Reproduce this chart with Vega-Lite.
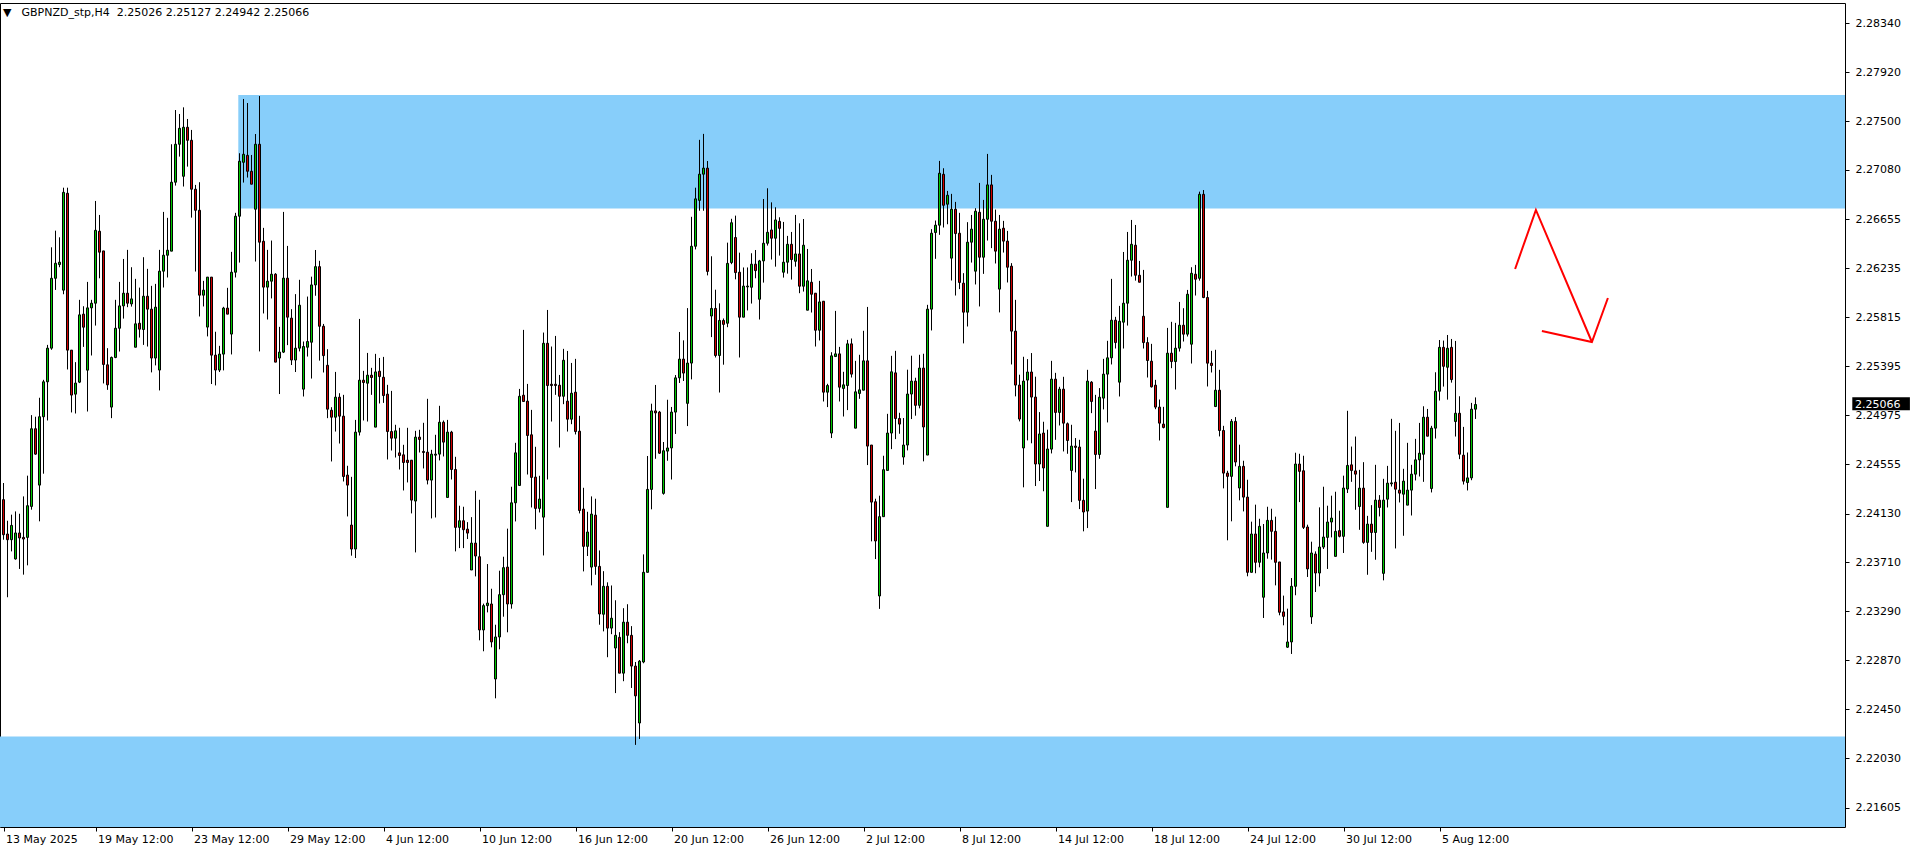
{
"$schema": "https://vega.github.io/schema/vega-lite/v6.json",
"width": 1845,
"height": 824,
"autosize": "none",
"padding": {"left": 0, "top": 3, "right": 71, "bottom": 23},
"background": "white",
"config": {"view": {"stroke": "black", "strokeWidth": 1}, "font": "DejaVu Sans"},
"datasets": {
"candles": [
{"i":0,"o":2.24249,"h":2.24392,"l":2.23905,"c":2.23948},
{"i":1,"o":2.23954,"h":2.24068,"l":2.23411,"c":2.23905},
{"i":2,"o":2.23905,"h":2.24120,"l":2.23805,"c":2.24028},
{"i":3,"o":2.23740,"h":2.24148,"l":2.23734,"c":2.23963},
{"i":4,"o":2.23963,"h":2.24128,"l":2.23654,"c":2.23920},
{"i":5,"o":2.23925,"h":2.24277,"l":2.23605,"c":2.23911},
{"i":6,"o":2.23925,"h":2.24455,"l":2.23685,"c":2.24197},
{"i":7,"o":2.24191,"h":2.24975,"l":2.24163,"c":2.24858},
{"i":8,"o":2.24858,"h":2.24961,"l":2.24635,"c":2.24640},
{"i":9,"o":2.24374,"h":2.25124,"l":2.24063,"c":2.24961},
{"i":10,"o":2.24961,"h":2.25278,"l":2.24472,"c":2.25261},
{"i":11,"o":2.25261,"h":2.25578,"l":2.24929,"c":2.25550},
{"i":12,"o":2.25550,"h":2.26416,"l":2.25536,"c":2.26150},
{"i":13,"o":2.26150,"h":2.26559,"l":2.26050,"c":2.26279},
{"i":14,"o":2.26268,"h":2.26502,"l":2.26245,"c":2.26288},
{"i":15,"o":2.26048,"h":2.26928,"l":2.26013,"c":2.26888},
{"i":16,"o":2.26880,"h":2.26928,"l":2.25367,"c":2.25533},
{"i":17,"o":2.25533,"h":2.25533,"l":2.24998,"c":2.25147},
{"i":18,"o":2.25155,"h":2.25430,"l":2.24989,"c":2.25250},
{"i":19,"o":2.25258,"h":2.25965,"l":2.25250,"c":2.25836},
{"i":20,"o":2.25842,"h":2.25910,"l":2.25561,"c":2.25730},
{"i":21,"o":2.25361,"h":2.26119,"l":2.25006,"c":2.25896},
{"i":22,"o":2.25896,"h":2.25965,"l":2.25487,"c":2.25936},
{"i":23,"o":2.25936,"h":2.26814,"l":2.25744,"c":2.26562},
{"i":24,"o":2.26554,"h":2.26694,"l":2.26150,"c":2.26374},
{"i":25,"o":2.26385,"h":2.26385,"l":2.25247,"c":2.25410},
{"i":26,"o":2.25407,"h":2.25550,"l":2.25192,"c":2.25235},
{"i":27,"o":2.25044,"h":2.25478,"l":2.24949,"c":2.25470},
{"i":28,"o":2.25470,"h":2.25965,"l":2.25464,"c":2.25721},
{"i":29,"o":2.25721,"h":2.26119,"l":2.25521,"c":2.25913},
{"i":30,"o":2.25913,"h":2.26316,"l":2.25804,"c":2.26022},
{"i":31,"o":2.26022,"h":2.26394,"l":2.25902,"c":2.25936},
{"i":32,"o":2.25930,"h":2.26245,"l":2.25907,"c":2.25973},
{"i":33,"o":2.25558,"h":2.26145,"l":2.25558,"c":2.25759},
{"i":34,"o":2.25764,"h":2.26070,"l":2.25641,"c":2.25713},
{"i":35,"o":2.25710,"h":2.26331,"l":2.25578,"c":2.25996},
{"i":36,"o":2.25996,"h":2.26231,"l":2.25564,"c":2.25885},
{"i":37,"o":2.25885,"h":2.26085,"l":2.25342,"c":2.25465},
{"i":38,"o":2.25465,"h":2.26102,"l":2.25402,"c":2.25902},
{"i":39,"o":2.25362,"h":2.26394,"l":2.25187,"c":2.26211},
{"i":40,"o":2.26211,"h":2.26720,"l":2.26071,"c":2.26348},
{"i":41,"o":2.26348,"h":2.26669,"l":2.26157,"c":2.26391},
{"i":42,"o":2.26383,"h":2.27301,"l":2.26383,"c":2.26975},
{"i":43,"o":2.26975,"h":2.27595,"l":2.26946,"c":2.27301},
{"i":44,"o":2.27301,"h":2.27561,"l":2.27195,"c":2.27438},
{"i":45,"o":2.27026,"h":2.27618,"l":2.26938,"c":2.27447},
{"i":46,"o":2.27447,"h":2.27518,"l":2.27109,"c":2.27335},
{"i":47,"o":2.27335,"h":2.27424,"l":2.26671,"c":2.26915},
{"i":48,"o":2.26915,"h":2.26952,"l":2.26208,"c":2.26734},
{"i":49,"o":2.26734,"h":2.26975,"l":2.25822,"c":2.26005},
{"i":50,"o":2.26005,"h":2.26128,"l":2.25908,"c":2.26048},
{"i":51,"o":2.25731,"h":2.26160,"l":2.25651,"c":2.26160},
{"i":52,"o":2.26160,"h":2.26160,"l":2.25242,"c":2.25490},
{"i":53,"o":2.25490,"h":2.25691,"l":2.25230,"c":2.25362},
{"i":54,"o":2.25362,"h":2.25570,"l":2.25345,"c":2.25499},
{"i":55,"o":2.25499,"h":2.25905,"l":2.25359,"c":2.25894},
{"i":56,"o":2.25894,"h":2.26068,"l":2.25842,"c":2.25842},
{"i":57,"o":2.25671,"h":2.26377,"l":2.25496,"c":2.26202},
{"i":58,"o":2.26202,"h":2.26712,"l":2.26157,"c":2.26683},
{"i":59,"o":2.26683,"h":2.27224,"l":2.26285,"c":2.27155},
{"i":60,"o":2.27146,"h":2.27690,"l":2.26972,"c":2.27215},
{"i":61,"o":2.27206,"h":2.27655,"l":2.27015,"c":2.27069},
{"i":62,"o":2.27069,"h":2.27209,"l":2.26958,"c":2.26958},
{"i":63,"o":2.26743,"h":2.27389,"l":2.26294,"c":2.27301},
{"i":64,"o":2.27301,"h":2.27715,"l":2.25522,"c":2.26460},
{"i":65,"o":2.26468,"h":2.26583,"l":2.25848,"c":2.26074},
{"i":66,"o":2.26074,"h":2.26394,"l":2.25796,"c":2.26125},
{"i":67,"o":2.26125,"h":2.26474,"l":2.25977,"c":2.26185},
{"i":68,"o":2.26185,"h":2.26194,"l":2.25430,"c":2.25430},
{"i":69,"o":2.25465,"h":2.25733,"l":2.25156,"c":2.25516},
{"i":70,"o":2.25516,"h":2.26720,"l":2.25508,"c":2.26151},
{"i":71,"o":2.26151,"h":2.26428,"l":2.25576,"c":2.25816},
{"i":72,"o":2.25808,"h":2.25885,"l":2.25405,"c":2.25448},
{"i":73,"o":2.25448,"h":2.26014,"l":2.25345,"c":2.25550},
{"i":74,"o":2.25550,"h":2.26137,"l":2.25522,"c":2.25919},
{"i":75,"o":2.25198,"h":2.25607,"l":2.25135,"c":2.25564},
{"i":76,"o":2.25558,"h":2.25993,"l":2.25478,"c":2.25607},
{"i":77,"o":2.25601,"h":2.26164,"l":2.25289,"c":2.26093},
{"i":78,"o":2.26093,"h":2.26393,"l":2.26000,"c":2.26250},
{"i":79,"o":2.26250,"h":2.26300,"l":2.25443,"c":2.25738},
{"i":80,"o":2.25738,"h":2.25758,"l":2.25341,"c":2.25486},
{"i":81,"o":2.25403,"h":2.25541,"l":2.24949,"c":2.25026},
{"i":82,"o":2.25017,"h":2.25043,"l":2.24577,"c":2.24957},
{"i":83,"o":2.24957,"h":2.25346,"l":2.24834,"c":2.25129},
{"i":84,"o":2.25129,"h":2.25163,"l":2.24731,"c":2.24966},
{"i":85,"o":2.24966,"h":2.25149,"l":2.24405,"c":2.24448},
{"i":86,"o":2.24460,"h":2.24540,"l":2.24105,"c":2.24374},
{"i":87,"o":2.24031,"h":2.24445,"l":2.23768,"c":2.23825},
{"i":88,"o":2.23825,"h":2.24934,"l":2.23748,"c":2.24829},
{"i":89,"o":2.24829,"h":2.25801,"l":2.24800,"c":2.25275},
{"i":90,"o":2.25275,"h":2.25355,"l":2.24929,"c":2.25255},
{"i":91,"o":2.25249,"h":2.25509,"l":2.24920,"c":2.25318},
{"i":92,"o":2.25318,"h":2.25381,"l":2.25149,"c":2.25298},
{"i":93,"o":2.24872,"h":2.25501,"l":2.24872,"c":2.25346},
{"i":94,"o":2.25352,"h":2.25466,"l":2.25075,"c":2.25306},
{"i":95,"o":2.25300,"h":2.25475,"l":2.25080,"c":2.25143},
{"i":96,"o":2.25155,"h":2.25235,"l":2.24594,"c":2.24834},
{"i":97,"o":2.24834,"h":2.25183,"l":2.24671,"c":2.24777},
{"i":98,"o":2.24777,"h":2.24892,"l":2.24611,"c":2.24840},
{"i":99,"o":2.24651,"h":2.24866,"l":2.24508,"c":2.24628},
{"i":100,"o":2.24634,"h":2.24720,"l":2.24328,"c":2.24568},
{"i":101,"o":2.24588,"h":2.24866,"l":2.24397,"c":2.24568},
{"i":102,"o":2.24588,"h":2.24588,"l":2.24131,"c":2.24245},
{"i":103,"o":2.24237,"h":2.24840,"l":2.23796,"c":2.24786},
{"i":104,"o":2.24786,"h":2.24849,"l":2.24654,"c":2.24766},
{"i":105,"o":2.24663,"h":2.24909,"l":2.24517,"c":2.24654},
{"i":106,"o":2.24657,"h":2.25115,"l":2.24380,"c":2.24417},
{"i":107,"o":2.24417,"h":2.24677,"l":2.24088,"c":2.24640},
{"i":108,"o":2.24631,"h":2.24806,"l":2.24096,"c":2.24640},
{"i":109,"o":2.24640,"h":2.25055,"l":2.24586,"c":2.24914},
{"i":110,"o":2.24914,"h":2.24929,"l":2.24620,"c":2.24743},
{"i":111,"o":2.24268,"h":2.24934,"l":2.24268,"c":2.24829},
{"i":112,"o":2.24829,"h":2.24840,"l":2.24422,"c":2.24508},
{"i":113,"o":2.24508,"h":2.24617,"l":2.23805,"c":2.24011},
{"i":114,"o":2.24011,"h":2.24197,"l":2.23833,"c":2.24068},
{"i":115,"o":2.24068,"h":2.24188,"l":2.23833,"c":2.23991},
{"i":116,"o":2.23996,"h":2.24056,"l":2.23911,"c":2.23962},
{"i":117,"o":2.23645,"h":2.24099,"l":2.23645,"c":2.23876},
{"i":118,"o":2.23876,"h":2.24325,"l":2.23590,"c":2.23765},
{"i":119,"o":2.23759,"h":2.24248,"l":2.23041,"c":2.23130},
{"i":120,"o":2.23130,"h":2.23356,"l":2.22947,"c":2.23339},
{"i":121,"o":2.23339,"h":2.23696,"l":2.23281,"c":2.23361},
{"i":122,"o":2.23353,"h":2.23484,"l":2.22981,"c":2.23027},
{"i":123,"o":2.22709,"h":2.23175,"l":2.22543,"c":2.23070},
{"i":124,"o":2.23070,"h":2.23639,"l":2.22964,"c":2.23433},
{"i":125,"o":2.23433,"h":2.23759,"l":2.23244,"c":2.23665},
{"i":126,"o":2.23670,"h":2.24000,"l":2.23110,"c":2.23353},
{"i":127,"o":2.23353,"h":2.24360,"l":2.23313,"c":2.24222},
{"i":128,"o":2.24222,"h":2.24737,"l":2.24062,"c":2.24651},
{"i":129,"o":2.24371,"h":2.25200,"l":2.24371,"c":2.25137},
{"i":130,"o":2.25146,"h":2.25707,"l":2.25092,"c":2.25092},
{"i":131,"o":2.25095,"h":2.25243,"l":2.24465,"c":2.24800},
{"i":132,"o":2.24806,"h":2.25020,"l":2.24182,"c":2.24440},
{"i":133,"o":2.24443,"h":2.24703,"l":2.23994,"c":2.24174},
{"i":134,"o":2.24174,"h":2.24454,"l":2.24139,"c":2.24254},
{"i":135,"o":2.24099,"h":2.25684,"l":2.23770,"c":2.25592},
{"i":136,"o":2.25592,"h":2.25878,"l":2.24422,"c":2.25229},
{"i":137,"o":2.25240,"h":2.25564,"l":2.24920,"c":2.25229},
{"i":138,"o":2.25240,"h":2.25655,"l":2.25149,"c":2.25229},
{"i":139,"o":2.25232,"h":2.25320,"l":2.24697,"c":2.25137},
{"i":140,"o":2.25137,"h":2.25544,"l":2.25069,"c":2.25446},
{"i":141,"o":2.25095,"h":2.25526,"l":2.24834,"c":2.24940},
{"i":142,"o":2.24940,"h":2.25423,"l":2.24897,"c":2.25163},
{"i":143,"o":2.25172,"h":2.25458,"l":2.24809,"c":2.24834},
{"i":144,"o":2.24837,"h":2.24969,"l":2.24131,"c":2.24156},
{"i":145,"o":2.24168,"h":2.24351,"l":2.23633,"c":2.23848},
{"i":146,"o":2.23848,"h":2.24145,"l":2.23765,"c":2.23971},
{"i":147,"o":2.23670,"h":2.24277,"l":2.23513,"c":2.24125},
{"i":148,"o":2.24116,"h":2.24257,"l":2.23604,"c":2.23676},
{"i":149,"o":2.23676,"h":2.23813,"l":2.23175,"c":2.23267},
{"i":150,"o":2.23265,"h":2.23635,"l":2.23118,"c":2.23505},
{"i":151,"o":2.23505,"h":2.23539,"l":2.22896,"c":2.23146},
{"i":152,"o":2.23146,"h":2.23512,"l":2.23094,"c":2.23231},
{"i":153,"o":2.22975,"h":2.23385,"l":2.22588,"c":2.23084},
{"i":154,"o":2.23067,"h":2.23111,"l":2.22759,"c":2.22759},
{"i":155,"o":2.22759,"h":2.23317,"l":2.22690,"c":2.23197},
{"i":156,"o":2.23197,"h":2.23351,"l":2.23016,"c":2.23084},
{"i":157,"o":2.23084,"h":2.23163,"l":2.22632,"c":2.22820},
{"i":158,"o":2.22820,"h":2.22855,"l":2.22143,"c":2.22564},
{"i":159,"o":2.22331,"h":2.22872,"l":2.22194,"c":2.22862},
{"i":160,"o":2.22855,"h":2.23779,"l":2.22844,"c":2.23625},
{"i":161,"o":2.23625,"h":2.24624,"l":2.23625,"c":2.24337},
{"i":162,"o":2.24337,"h":2.25073,"l":2.24166,"c":2.25011},
{"i":163,"o":2.25011,"h":2.25234,"l":2.24600,"c":2.24994},
{"i":164,"o":2.25001,"h":2.25011,"l":2.24642,"c":2.24648},
{"i":165,"o":2.24303,"h":2.24744,"l":2.24292,"c":2.24669},
{"i":166,"o":2.24666,"h":2.25107,"l":2.24583,"c":2.24693},
{"i":167,"o":2.24693,"h":2.25045,"l":2.24422,"c":2.25001},
{"i":168,"o":2.25001,"h":2.25319,"l":2.24813,"c":2.25295},
{"i":169,"o":2.25295,"h":2.25689,"l":2.25251,"c":2.25456},
{"i":170,"o":2.25456,"h":2.25617,"l":2.25268,"c":2.25336},
{"i":171,"o":2.25076,"h":2.25894,"l":2.24881,"c":2.25422},
{"i":172,"o":2.25422,"h":2.26678,"l":2.25282,"c":2.26425},
{"i":173,"o":2.26425,"h":2.26928,"l":2.26398,"c":2.26832},
{"i":174,"o":2.26819,"h":2.27339,"l":2.26730,"c":2.27044},
{"i":175,"o":2.27044,"h":2.27390,"l":2.26730,"c":2.27096},
{"i":176,"o":2.27096,"h":2.27157,"l":2.26175,"c":2.26209},
{"i":177,"o":2.25826,"h":2.26339,"l":2.25645,"c":2.25891},
{"i":178,"o":2.25891,"h":2.26052,"l":2.25470,"c":2.25487},
{"i":179,"o":2.25487,"h":2.25935,"l":2.25169,"c":2.25788},
{"i":180,"o":2.25788,"h":2.25805,"l":2.25408,"c":2.25754},
{"i":181,"o":2.25764,"h":2.26456,"l":2.25730,"c":2.26278},
{"i":182,"o":2.26285,"h":2.26661,"l":2.26271,"c":2.26627},
{"i":183,"o":2.26500,"h":2.26688,"l":2.26141,"c":2.26199},
{"i":184,"o":2.26202,"h":2.26370,"l":2.25470,"c":2.25816},
{"i":185,"o":2.25816,"h":2.26243,"l":2.25816,"c":2.26083},
{"i":186,"o":2.26076,"h":2.26243,"l":2.25874,"c":2.26083},
{"i":187,"o":2.26073,"h":2.26365,"l":2.25933,"c":2.26271},
{"i":188,"o":2.26271,"h":2.26393,"l":2.26150,"c":2.26216},
{"i":189,"o":2.25970,"h":2.26308,"l":2.25796,"c":2.26299},
{"i":190,"o":2.26299,"h":2.26831,"l":2.26113,"c":2.26451},
{"i":191,"o":2.26451,"h":2.26923,"l":2.26431,"c":2.26545},
{"i":192,"o":2.26565,"h":2.26802,"l":2.26311,"c":2.26494},
{"i":193,"o":2.26494,"h":2.26760,"l":2.26250,"c":2.26651},
{"i":194,"o":2.26639,"h":2.26674,"l":2.26345,"c":2.26579},
{"i":195,"o":2.26202,"h":2.26634,"l":2.26156,"c":2.26288},
{"i":196,"o":2.26288,"h":2.26514,"l":2.26190,"c":2.26442},
{"i":197,"o":2.26442,"h":2.26548,"l":2.26139,"c":2.26311},
{"i":198,"o":2.26296,"h":2.26694,"l":2.26250,"c":2.26359},
{"i":199,"o":2.26359,"h":2.26622,"l":2.26022,"c":2.26082},
{"i":200,"o":2.26082,"h":2.26659,"l":2.26036,"c":2.26434},
{"i":201,"o":2.25876,"h":2.26402,"l":2.25876,"c":2.26128},
{"i":202,"o":2.26116,"h":2.26230,"l":2.25856,"c":2.26013},
{"i":203,"o":2.26022,"h":2.26022,"l":2.25564,"c":2.25704},
{"i":204,"o":2.25704,"h":2.26128,"l":2.25616,"c":2.25947},
{"i":205,"o":2.25953,"h":2.25953,"l":2.25092,"c":2.25172},
{"i":206,"o":2.25172,"h":2.25244,"l":2.25044,"c":2.25229},
{"i":207,"o":2.24821,"h":2.25515,"l":2.24778,"c":2.25484},
{"i":208,"o":2.25478,"h":2.25870,"l":2.25478,"c":2.25501},
{"i":209,"o":2.25501,"h":2.25561,"l":2.25092,"c":2.25215},
{"i":210,"o":2.25204,"h":2.25347,"l":2.24963,"c":2.25235},
{"i":211,"o":2.25229,"h":2.25621,"l":2.25018,"c":2.25587},
{"i":212,"o":2.25587,"h":2.25633,"l":2.25298,"c":2.25327},
{"i":213,"o":2.24863,"h":2.25441,"l":2.24863,"c":2.25175},
{"i":214,"o":2.25161,"h":2.25493,"l":2.25115,"c":2.25192},
{"i":215,"o":2.25189,"h":2.25699,"l":2.25189,"c":2.25441},
{"i":216,"o":2.25441,"h":2.25904,"l":2.24546,"c":2.24709},
{"i":217,"o":2.24718,"h":2.24718,"l":2.23891,"c":2.24228},
{"i":218,"o":2.24231,"h":2.24257,"l":2.23739,"c":2.23894},
{"i":219,"o":2.23422,"h":2.24283,"l":2.23311,"c":2.24103},
{"i":220,"o":2.24103,"h":2.24626,"l":2.24103,"c":2.24506},
{"i":221,"o":2.24500,"h":2.24986,"l":2.24500,"c":2.24821},
{"i":222,"o":2.24821,"h":2.25484,"l":2.24683,"c":2.25347},
{"i":223,"o":2.25338,"h":2.25527,"l":2.24769,"c":2.24946},
{"i":224,"o":2.24946,"h":2.24995,"l":2.24815,"c":2.24898},
{"i":225,"o":2.24615,"h":2.24950,"l":2.24549,"c":2.24718},
{"i":226,"o":2.24718,"h":2.25365,"l":2.24672,"c":2.25156},
{"i":227,"o":2.25156,"h":2.25485,"l":2.24941,"c":2.25267},
{"i":228,"o":2.25267,"h":2.25296,"l":2.24970,"c":2.25059},
{"i":229,"o":2.25059,"h":2.25493,"l":2.25033,"c":2.25379},
{"i":230,"o":2.25379,"h":2.25502,"l":2.24578,"c":2.24873},
{"i":231,"o":2.24632,"h":2.25922,"l":2.24632,"c":2.25885},
{"i":232,"o":2.25885,"h":2.26572,"l":2.25702,"c":2.26537},
{"i":233,"o":2.26543,"h":2.26646,"l":2.26317,"c":2.26606},
{"i":234,"o":2.26606,"h":2.27158,"l":2.26523,"c":2.27052},
{"i":235,"o":2.27043,"h":2.27095,"l":2.26586,"c":2.26777},
{"i":236,"o":2.26786,"h":2.26900,"l":2.26614,"c":2.26863},
{"i":237,"o":2.26323,"h":2.26875,"l":2.26131,"c":2.26743},
{"i":238,"o":2.26743,"h":2.26806,"l":2.26002,"c":2.26534},
{"i":239,"o":2.26537,"h":2.26712,"l":2.26057,"c":2.26114},
{"i":240,"o":2.26108,"h":2.26194,"l":2.25591,"c":2.25859},
{"i":241,"o":2.25859,"h":2.26632,"l":2.25736,"c":2.26460},
{"i":242,"o":2.26460,"h":2.26694,"l":2.26285,"c":2.26572},
{"i":243,"o":2.26211,"h":2.26752,"l":2.26097,"c":2.26726},
{"i":244,"o":2.26717,"h":2.26969,"l":2.25908,"c":2.26331},
{"i":245,"o":2.26331,"h":2.26823,"l":2.26188,"c":2.26657},
{"i":246,"o":2.26657,"h":2.27218,"l":2.26474,"c":2.26952},
{"i":247,"o":2.26952,"h":2.27038,"l":2.26409,"c":2.26640},
{"i":248,"o":2.26640,"h":2.26740,"l":2.26277,"c":2.26383},
{"i":249,"o":2.26057,"h":2.26694,"l":2.25857,"c":2.26572},
{"i":250,"o":2.26580,"h":2.26643,"l":2.26371,"c":2.26469},
{"i":251,"o":2.26469,"h":2.26557,"l":2.26114,"c":2.26245},
{"i":252,"o":2.26254,"h":2.26280,"l":2.25410,"c":2.25696},
{"i":253,"o":2.25696,"h":2.25965,"l":2.25136,"c":2.25233},
{"i":254,"o":2.25233,"h":2.25322,"l":2.24921,"c":2.24941},
{"i":255,"o":2.24693,"h":2.25476,"l":2.24355,"c":2.25267},
{"i":256,"o":2.25276,"h":2.25456,"l":2.24758,"c":2.25345},
{"i":257,"o":2.25345,"h":2.25508,"l":2.24733,"c":2.25130},
{"i":258,"o":2.25130,"h":2.25305,"l":2.24366,"c":2.24555},
{"i":259,"o":2.24555,"h":2.25001,"l":2.24409,"c":2.24813},
{"i":260,"o":2.24821,"h":2.24918,"l":2.24321,"c":2.24521},
{"i":261,"o":2.24020,"h":2.24850,"l":2.24020,"c":2.24684},
{"i":262,"o":2.24683,"h":2.25441,"l":2.24646,"c":2.25284},
{"i":263,"o":2.25284,"h":2.25338,"l":2.24763,"c":2.24998},
{"i":264,"o":2.24998,"h":2.25218,"l":2.24886,"c":2.25198},
{"i":265,"o":2.25198,"h":2.25304,"l":2.24663,"c":2.24906},
{"i":266,"o":2.24901,"h":2.24912,"l":2.24643,"c":2.24757},
{"i":267,"o":2.24500,"h":2.24892,"l":2.24228,"c":2.24709},
{"i":268,"o":2.24709,"h":2.24778,"l":2.24483,"c":2.24698},
{"i":269,"o":2.24701,"h":2.24763,"l":2.24168,"c":2.24243},
{"i":270,"o":2.24243,"h":2.24429,"l":2.23977,"c":2.24143},
{"i":271,"o":2.24151,"h":2.25364,"l":2.24005,"c":2.25267},
{"i":272,"o":2.25258,"h":2.25267,"l":2.24992,"c":2.25092},
{"i":273,"o":2.24838,"h":2.25149,"l":2.24340,"c":2.24637},
{"i":274,"o":2.24637,"h":2.25207,"l":2.24600,"c":2.25129},
{"i":275,"o":2.25121,"h":2.25458,"l":2.25024,"c":2.25327},
{"i":276,"o":2.25327,"h":2.25613,"l":2.24912,"c":2.25467},
{"i":277,"o":2.25467,"h":2.26145,"l":2.25410,"c":2.25790},
{"i":278,"o":2.25790,"h":2.25819,"l":2.25547,"c":2.25598},
{"i":279,"o":2.25258,"h":2.25913,"l":2.25135,"c":2.25781},
{"i":280,"o":2.25773,"h":2.26376,"l":2.25547,"c":2.25936},
{"i":281,"o":2.25936,"h":2.26548,"l":2.25744,"c":2.26305},
{"i":282,"o":2.26305,"h":2.26651,"l":2.26165,"c":2.26442},
{"i":283,"o":2.26434,"h":2.26608,"l":2.26130,"c":2.26176},
{"i":284,"o":2.26176,"h":2.26299,"l":2.26116,"c":2.26116},
{"i":285,"o":2.25824,"h":2.26222,"l":2.25547,"c":2.25598},
{"i":286,"o":2.25598,"h":2.25644,"l":2.25298,"c":2.25444},
{"i":287,"o":2.25438,"h":2.25587,"l":2.25212,"c":2.25218},
{"i":288,"o":2.25232,"h":2.25278,"l":2.25026,"c":2.25044},
{"i":289,"o":2.25044,"h":2.25109,"l":2.24757,"c":2.24906},
{"i":290,"o":2.24898,"h":2.25046,"l":2.24861,"c":2.24869},
{"i":291,"o":2.24183,"h":2.25724,"l":2.24183,"c":2.25507},
{"i":292,"o":2.25507,"h":2.25776,"l":2.25378,"c":2.25435},
{"i":293,"o":2.25435,"h":2.25767,"l":2.25195,"c":2.25550},
{"i":294,"o":2.25550,"h":2.25947,"l":2.25521,"c":2.25747},
{"i":295,"o":2.25747,"h":2.25893,"l":2.25607,"c":2.25670},
{"i":296,"o":2.25670,"h":2.26050,"l":2.25650,"c":2.26013},
{"i":297,"o":2.25584,"h":2.26245,"l":2.25418,"c":2.26193},
{"i":298,"o":2.26185,"h":2.26265,"l":2.26002,"c":2.26142},
{"i":299,"o":2.26150,"h":2.26894,"l":2.26130,"c":2.26871},
{"i":300,"o":2.26871,"h":2.26908,"l":2.25979,"c":2.25985},
{"i":301,"o":2.25985,"h":2.26042,"l":2.25221,"c":2.25421},
{"i":302,"o":2.25421,"h":2.25527,"l":2.25341,"c":2.25401},
{"i":303,"o":2.25049,"h":2.25536,"l":2.25044,"c":2.25189},
{"i":304,"o":2.25189,"h":2.25364,"l":2.24792,"c":2.24843},
{"i":305,"o":2.24843,"h":2.24883,"l":2.24346,"c":2.24477},
{"i":306,"o":2.24477,"h":2.24497,"l":2.23900,"c":2.24449},
{"i":307,"o":2.24449,"h":2.24941,"l":2.24063,"c":2.24921},
{"i":308,"o":2.24921,"h":2.24958,"l":2.24535,"c":2.24572},
{"i":309,"o":2.24349,"h":2.24721,"l":2.24243,"c":2.24535},
{"i":310,"o":2.24535,"h":2.24583,"l":2.24148,"c":2.24271},
{"i":311,"o":2.24271,"h":2.24420,"l":2.23591,"c":2.23625},
{"i":312,"o":2.23625,"h":2.24060,"l":2.23625,"c":2.23954},
{"i":313,"o":2.23954,"h":2.24206,"l":2.23617,"c":2.23711},
{"i":314,"o":2.23711,"h":2.24085,"l":2.23668,"c":2.24020},
{"i":315,"o":2.23411,"h":2.24040,"l":2.23233,"c":2.23791},
{"i":316,"o":2.23791,"h":2.24188,"l":2.23742,"c":2.24071},
{"i":317,"o":2.24071,"h":2.24171,"l":2.23734,"c":2.23977},
{"i":318,"o":2.23977,"h":2.24103,"l":2.23513,"c":2.23711},
{"i":319,"o":2.23714,"h":2.23714,"l":2.23256,"c":2.23282},
{"i":320,"o":2.23285,"h":2.23425,"l":2.23170,"c":2.23247},
{"i":321,"o":2.22982,"h":2.23313,"l":2.22976,"c":2.23027},
{"i":322,"o":2.23027,"h":2.23576,"l":2.22924,"c":2.23505},
{"i":323,"o":2.23505,"h":2.24652,"l":2.23428,"c":2.24555},
{"i":324,"o":2.24555,"h":2.24643,"l":2.24228,"c":2.24492},
{"i":325,"o":2.24497,"h":2.24626,"l":2.23997,"c":2.24011},
{"i":326,"o":2.24014,"h":2.24034,"l":2.23585,"c":2.23654},
{"i":327,"o":2.23242,"h":2.23888,"l":2.23182,"c":2.23791},
{"i":328,"o":2.23782,"h":2.23805,"l":2.23456,"c":2.23619},
{"i":329,"o":2.23619,"h":2.24183,"l":2.23505,"c":2.23842},
{"i":330,"o":2.23842,"h":2.24360,"l":2.23825,"c":2.23928},
{"i":331,"o":2.23925,"h":2.24197,"l":2.23654,"c":2.24057},
{"i":332,"o":2.24057,"h":2.24283,"l":2.23925,"c":2.24091},
{"i":333,"o":2.23762,"h":2.24317,"l":2.23762,"c":2.23977},
{"i":334,"o":2.23983,"h":2.24154,"l":2.23925,"c":2.23934},
{"i":335,"o":2.23934,"h":2.24455,"l":2.23791,"c":2.24349},
{"i":336,"o":2.24340,"h":2.25012,"l":2.24306,"c":2.24543},
{"i":337,"o":2.24548,"h":2.24705,"l":2.24402,"c":2.24499},
{"i":338,"o":2.24496,"h":2.24791,"l":2.24162,"c":2.24468},
{"i":339,"o":2.24190,"h":2.24505,"l":2.23990,"c":2.24348},
{"i":340,"o":2.24348,"h":2.24571,"l":2.23870,"c":2.23882},
{"i":341,"o":2.23882,"h":2.24110,"l":2.23604,"c":2.24039},
{"i":342,"o":2.24039,"h":2.24202,"l":2.23801,"c":2.23967},
{"i":343,"o":2.23967,"h":2.24548,"l":2.23733,"c":2.24245},
{"i":344,"o":2.24245,"h":2.24288,"l":2.24105,"c":2.24182},
{"i":345,"o":2.23616,"h":2.24428,"l":2.23556,"c":2.24245},
{"i":346,"o":2.24253,"h":2.24539,"l":2.24182,"c":2.24391},
{"i":347,"o":2.24385,"h":2.24943,"l":2.24362,"c":2.24393},
{"i":348,"o":2.24399,"h":2.24840,"l":2.23830,"c":2.24339},
{"i":349,"o":2.24331,"h":2.24908,"l":2.24225,"c":2.24305},
{"i":350,"o":2.24296,"h":2.24514,"l":2.23939,"c":2.24408},
{"i":351,"o":2.24202,"h":2.24737,"l":2.24202,"c":2.24331},
{"i":352,"o":2.24331,"h":2.24548,"l":2.24113,"c":2.24468},
{"i":353,"o":2.24468,"h":2.24771,"l":2.24414,"c":2.24591},
{"i":354,"o":2.24591,"h":2.24908,"l":2.24448,"c":2.24648},
{"i":355,"o":2.24639,"h":2.25051,"l":2.24402,"c":2.24957},
{"i":356,"o":2.24957,"h":2.25028,"l":2.24794,"c":2.24794},
{"i":357,"o":2.24345,"h":2.24883,"l":2.24311,"c":2.24863},
{"i":358,"o":2.24863,"h":2.25343,"l":2.24774,"c":2.25180},
{"i":359,"o":2.25180,"h":2.25620,"l":2.25100,"c":2.25557},
{"i":360,"o":2.25557,"h":2.25615,"l":2.25220,"c":2.25394},
{"i":361,"o":2.25386,"h":2.25663,"l":2.25108,"c":2.25549},
{"i":362,"o":2.25557,"h":2.25629,"l":2.25254,"c":2.25280},
{"i":363,"o":2.24920,"h":2.25612,"l":2.24791,"c":2.24991},
{"i":364,"o":2.24991,"h":2.25137,"l":2.24597,"c":2.24639},
{"i":365,"o":2.24631,"h":2.24874,"l":2.24379,"c":2.24408},
{"i":366,"o":2.24396,"h":2.24654,"l":2.24328,"c":2.24436},
{"i":367,"o":2.24436,"h":2.25080,"l":2.24416,"c":2.25026},
{"i":368,"o":2.25026,"h":2.25127,"l":2.24942,"c":2.25066}
],
"zones": [
{"x1": 58.7, "x2": 460.375, "y1": 2.26750, "y2": 2.27724},
{"x1": -0.875, "x2": 460.375, "y1": 2.21438, "y2": 2.22216}
],
"arrow": [
{"seg": "a", "k": 0, "ax": 377.9, "ay": 2.26230},
{"seg": "a", "k": 1, "ax": 383.1, "ay": 2.26737},
{"seg": "a", "k": 2, "ax": 397.1, "ay": 2.25603},
{"seg": "b", "k": 0, "ax": 384.6, "ay": 2.25698},
{"seg": "b", "k": 1, "ax": 397.1, "ay": 2.25603},
{"seg": "b", "k": 2, "ax": 401.1, "ay": 2.25981}
],
"header": [
{"tx": -0.125, "ty": 2.28428, "t": "▼"},
{"tx": 4.5, "ty": 2.28428, "t": "GBPNZD_stp,H4\u00a0 2.25026 2.25127 2.24942 2.25066"}
],
"lastprice": [
{"bx1": 462.2, "bx2": 476.6, "by1": 2.25128, "by2": 2.25017, "tx": 462.9, "p": 2.25066, "t": "2.25066"}
]
},
"layer": [
{
"data": {"name": "zones"},
"mark": {"type": "rect", "color": "#87CEFA"},
"encoding": {
"x": {"field": "x1", "type": "quantitative", "scale": {"domain": [-0.875, 460.375], "nice": false, "zero": false, "padding": 0}, "axis": {"orient": "bottom", "values": [0, 23, 47, 71, 95, 119, 143, 167, 191, 215, 239, 263, 287, 311, 335, 359], "labelExpr": "['13 May 2025','19 May 12:00','23 May 12:00','29 May 12:00','4 Jun 12:00','10 Jun 12:00','16 Jun 12:00','20 Jun 12:00','26 Jun 12:00','2 Jul 12:00','8 Jul 12:00','14 Jul 12:00','18 Jul 12:00','24 Jul 12:00','30 Jul 12:00','5 Aug 12:00'][datum.value == 0 ? 0 : (datum.value + 1) / 24]", "labelAlign": "left", "labelOffset": 2, "labelPadding": 2, "tickSize": 4, "tickColor": "black", "domain": false, "grid": false, "labelFont": "DejaVu Sans", "labelFontSize": 11, "labelColor": "black", "labelOverlap": false, "labelBound": false, "labelFlush": false, "title": null}},
"x2": {"field": "x2"},
"y": {"field": "y1", "type": "quantitative", "scale": {"domain": [2.21438, 2.28514], "nice": false, "zero": false, "padding": 0}, "axis": {"orient": "right", "values": [2.28340, 2.27920, 2.27500, 2.27080, 2.26655, 2.26235, 2.25815, 2.25395, 2.24975, 2.24555, 2.24130, 2.23710, 2.23290, 2.22870, 2.22450, 2.22030, 2.21605], "format": ".5f", "tickSize": 4, "tickColor": "black", "domain": false, "grid": false, "labelFont": "DejaVu Sans", "labelFontSize": 11, "labelColor": "black", "labelPadding": 6, "labelOverlap": false, "labelBound": false, "labelFlush": false, "title": null}},
"y2": {"field": "y2"}
}
},
{
"data": {"name": "candles"},
"mark": {"type": "rule", "color": "black", "strokeWidth": 1},
"encoding": {
"x": {"field": "i", "type": "quantitative"},
"y": {"field": "l", "type": "quantitative"},
"y2": {"field": "h"}
}
},
{
"data": {"name": "candles"},
"mark": {"type": "bar", "size": 2, "stroke": "black", "strokeWidth": 1},
"encoding": {
"x": {"field": "i", "type": "quantitative"},
"y": {"field": "o", "type": "quantitative"},
"y2": {"field": "c"},
"fill": {"condition": {"test": "datum.c >= datum.o", "value": "#00c800"}, "value": "#d00000"}
}
},
{
"data": {"name": "arrow"},
"mark": {"type": "line", "color": "#ff0000", "strokeWidth": 2},
"encoding": {
"x": {"field": "ax", "type": "quantitative"},
"y": {"field": "ay", "type": "quantitative"},
"detail": {"field": "seg"},
"order": {"field": "k"}
}
},
{
"data": {"name": "header"},
"mark": {"type": "text", "align": "left", "baseline": "middle", "font": "DejaVu Sans", "fontSize": 11, "color": "black"},
"encoding": {
"x": {"field": "tx", "type": "quantitative"},
"y": {"field": "ty", "type": "quantitative"},
"text": {"field": "t"}
}
},
{
"data": {"name": "lastprice"},
"mark": {"type": "rect", "color": "black", "clip": false},
"encoding": {
"x": {"field": "bx1", "type": "quantitative"},
"x2": {"field": "bx2"},
"y": {"field": "by1", "type": "quantitative"},
"y2": {"field": "by2"}
}
},
{
"data": {"name": "lastprice"},
"mark": {"type": "text", "align": "left", "baseline": "middle", "font": "DejaVu Sans", "fontSize": 11, "color": "white", "clip": false},
"encoding": {
"x": {"field": "tx", "type": "quantitative"},
"y": {"field": "p", "type": "quantitative"},
"text": {"field": "t"}
}
}
]
}
